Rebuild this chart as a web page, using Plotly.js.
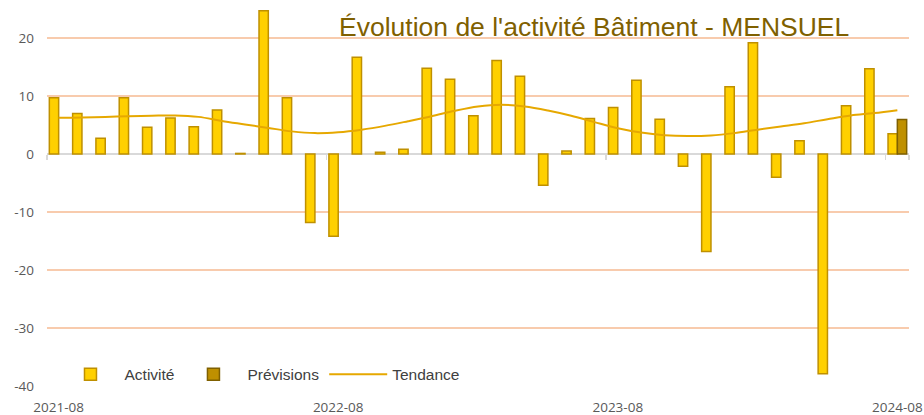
<!DOCTYPE html>
<html>
<head>
<meta charset="utf-8">
<script src="https://cdn.plot.ly/plotly-3.0.1.min.js"></script>
<style>html,body{margin:0;padding:0;background:#fff;}</style>
</head>
<body>
<div id="chart" style="width:924px;height:415px;"></div>
<script>
const months = [
 "2021-08","2021-09","2021-10","2021-11","2021-12",
 "2022-01","2022-02","2022-03","2022-04","2022-05","2022-06","2022-07","2022-08","2022-09","2022-10","2022-11","2022-12",
 "2023-01","2023-02","2023-03","2023-04","2023-05","2023-06","2023-07","2023-08","2023-09","2023-10","2023-11","2023-12",
 "2024-01","2024-02","2024-03","2024-04","2024-05","2024-06","2024-07","2024-08"
];
const activite = [
 9.7, 7.0, 2.7, 9.7, 4.6,
 6.2, 4.7, 7.6, 0.1, 24.7, 9.7, -11.8, -14.2, 16.7, 0.3, 0.8, 14.8,
 12.9, 6.6, 16.1, 13.4, -5.4, 0.5, 6.1, 8.0, 12.7, 6.0, -2.1, -16.8,
 11.6, 19.2, -4.0, 2.3, -37.9, 8.3, 14.7, 3.5
];
const previsions = [
 null,null,null,null,null,
 null,null,null,null,null,null,null,null,null,null,null,null,
 null,null,null,null,null,null,null,null,null,null,null,null,
 null,null,null,null,null,null,null,5.95
];
const tendance = [
 6.25, 6.3, 6.4, 6.5, 6.6,
 6.65, 6.4, 5.7, 5.1, 4.5, 3.9, 3.6, 3.75, 4.2, 4.85, 5.65, 6.5,
 7.45, 8.2, 8.5, 8.2, 7.5, 6.6, 5.5, 4.45, 3.7, 3.25, 3.1, 3.2,
 3.6, 4.2, 4.75, 5.3, 6.0, 6.65, 7.05, 7.55
];
const xTicks = ["2021-08","2022-08","2023-08","2024-08"];
const yTicks = [-40,-30,-20,-10,0,10,20];

const traces = [
 {type:'bar', name:'Activité', x:months, y:activite,
  marker:{color:'#FFD000', line:{color:'#BF9000', width:1.5}}},
 {type:'bar', name:'Prévisions', x:months, y:previsions,
  marker:{color:'#BF9000', line:{color:'#7F6000', width:1.5}}},
 {type:'scatter', mode:'lines', name:'Tendance', x:months, y:tendance, xaxis:'x2',
  line:{color:'#E6A800', width:2, shape:'spline', smoothing:1}}
];

const layout = {
 width:924, height:415,
 margin:{l:47, r:15, t:9, b:29},
 paper_bgcolor:'#ffffff', plot_bgcolor:'#ffffff',
 barmode:'group', bargap:0.2, bargroupgap:0,
 showlegend:true,
 legend:{orientation:'h', x:0.011, xanchor:'left', y:0.03, yanchor:'middle',
  bgcolor:'rgba(0,0,0,0)', font:{family:'Liberation Sans, Arial, sans-serif', size:15.5, color:'#404040'},
  traceorder:'normal', itemwidth:58},
 title:{text:"Évolution de l'activité Bâtiment - MENSUEL",
  font:{family:'Liberation Sans, Arial, sans-serif', size:26.5, color:'#7F6000'},
  x:0.643, xanchor:'center', xref:'container', y:0.935, yanchor:'middle', yref:'container'},
 xaxis:{type:'category', categoryorder:'array', categoryarray:months,
  range:[-0.5, 36.5], tickmode:'array', tickvals:xTicks, ticktext:xTicks,
  ticks:'', showgrid:false, showline:false, zeroline:false,
  tickfont:{family:'Open Sans, sans-serif', size:13.5, color:'#595959'}, ticklabelstandoff:11},
 xaxis2:{type:'category', categoryorder:'array', categoryarray:months, overlaying:'x', matches:'x',
  anchor:'free', position:0.6154, side:'bottom',
  range:[-0.5, 36.5], tickmode:'array', tickvals:xTicks, tickson:'boundaries',
  ticks:'outside', ticklen:5, tickwidth:1.5, tickcolor:'#D9D9D9',
  showticklabels:false, showgrid:false, showline:false, zeroline:false},
 yaxis:{range:[-40, 25], tickmode:'array', tickvals:yTicks, ticktext:yTicks.map(String),
  showgrid:true, gridcolor:'#F8CBAD', gridwidth:1.5,
  zeroline:true, zerolinecolor:'#D9D9D9', zerolinewidth:2,
  showline:false, ticks:'', ticklabelstandoff:12,
  tickfont:{family:'Open Sans, sans-serif', size:13.5, color:'#595959'}}
};

Plotly.newPlot('chart', traces, layout, {staticPlot:true, displayModeBar:false});
</script>
</body>
</html>
